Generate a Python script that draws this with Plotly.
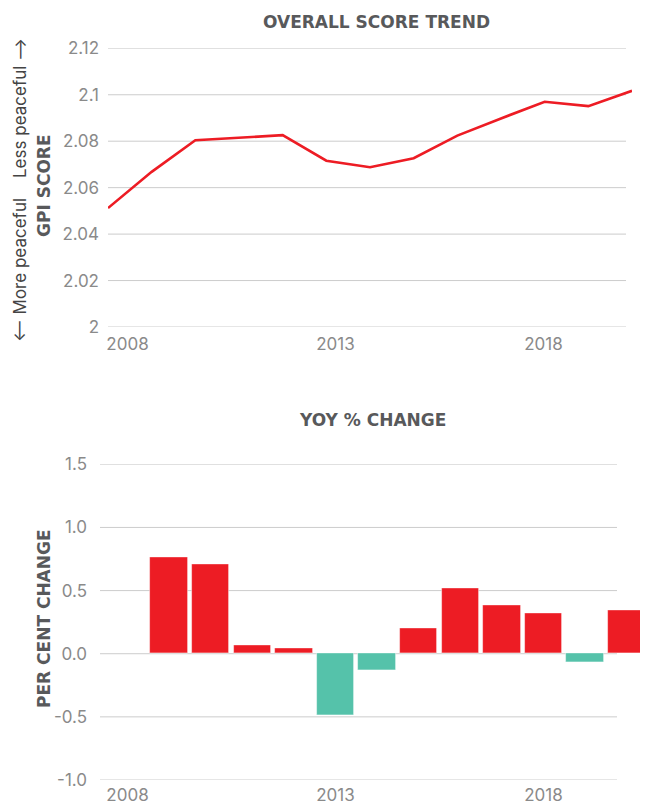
import plotly.graph_objects as go

# ---- data ----
years = list(range(2008, 2021))
gpi_score = [2.0512, 2.0668, 2.0804, 2.0816, 2.0826, 2.0716, 2.0688,
             2.0727, 2.0824, 2.0898, 2.0970, 2.0951, 2.1017]
change_years = list(range(2009, 2021))
yoy_change = [0.76, 0.71, 0.07, 0.04, -0.49, -0.13, 0.20, 0.52, 0.38, 0.32, -0.07, 0.34]
top_yticks = [2.0, 2.02, 2.04, 2.06, 2.08, 2.10, 2.12]
top_ytext = ["2", "2.02", "2.04", "2.06", "2.08", "2.1", "2.12"]
bottom_yticks = [-1.0, -0.5, 0.0, 0.5, 1.0, 1.5]
bottom_ytext = ["-1.0", "-0.5", "0.0", "0.5", "1.0", "1.5"]
xtick_years = [2008, 2013, 2018]
xtick_text = ["2008", "2013", "2018"]

# ---- style ----
W, H = 648, 809
OFF = 8  # page body margin
RED = "#ED1C24"
TEAL = "#55C2AA"
GRID = "#cccccc"
TICK_COLOR = "#8a8a8a"
TITLE_COLOR = "#58595b"
FONT = "Inter"


def px(x):
    return (x - OFF) / W


def py(y):
    return 1 - (y - OFF) / H


# bar-chart year scale: 2008 slot centred at 127.5 px, 41.6 px per year
slot0, slot_w = 127.5, 41.6
bottom_range = [2008 + (100 - slot0) / slot_w, 2008 + (W + OFF - slot0) / slot_w]

fig = go.Figure()

fig.add_trace(go.Scatter(
    x=years, y=gpi_score, mode="lines",
    line=dict(color=RED, width=2.6),
    xaxis="x", yaxis="y", showlegend=False, hoverinfo="x+y",
))

# carries the year labels under the top chart (same year scale as the bar chart)
fig.add_trace(go.Scatter(
    x=xtick_years, y=[None] * len(xtick_years), mode="lines",
    xaxis="x3", yaxis="y", showlegend=False, hoverinfo="skip",
))

fig.add_trace(go.Bar(
    x=change_years, y=yoy_change, width=0.9,
    marker=dict(color=[RED if v > 0 else TEAL for v in yoy_change],
                line=dict(color="rgba(255,255,255,0.6)", width=0.8)),
    xaxis="x2", yaxis="y2", showlegend=False,
))

tickfont = dict(family=FONT, size=17, color=TICK_COLOR)

fig.update_layout(
    width=W, height=H,
    margin=dict(l=0, r=0, t=0, b=0, autoexpand=False),
    paper_bgcolor="white", plot_bgcolor="rgba(0,0,0,0)",
    xaxis=dict(domain=[px(108), px(632)], range=[2008, 2020], anchor="y",
               showgrid=False, zeroline=False, showticklabels=False, showline=False),
    yaxis=dict(domain=[py(327), py(48.3)], range=[2.0, 2.12], anchor="x",
               tickvals=top_yticks, ticktext=top_ytext, tickfont=tickfont,
               showgrid=False, zeroline=False, showline=False, ticklabelstandoff=8),
    xaxis3=dict(domain=[px(100), 1], range=bottom_range, anchor="y",
                tickvals=xtick_years, ticktext=xtick_text, tickfont=tickfont,
                showgrid=False, zeroline=False, showline=False, ticklabelstandoff=5),
    xaxis2=dict(domain=[px(100), 1], range=bottom_range, anchor="y2",
                tickvals=xtick_years, ticktext=xtick_text, tickfont=tickfont,
                showgrid=False, zeroline=False, showline=False, ticklabelstandoff=3),
    yaxis2=dict(domain=[py(780), py(464.3)], range=[-1.0, 1.5], anchor="x2",
                tickvals=bottom_yticks, ticktext=bottom_ytext, tickfont=tickfont,
                showgrid=False, zeroline=False, showline=False, ticklabelstandoff=12),
    bargap=0,
)

shapes = []
for v in top_yticks:
    shapes.append(dict(type="line", xref="paper", yref="y", x0=px(108), x1=px(626),
                       y0=v, y1=v, line=dict(color=GRID, width=1), layer="below"))
for v in bottom_yticks:
    shapes.append(dict(type="line", xref="paper", yref="y2", x0=px(100), x1=px(617),
                       y0=v, y1=v, line=dict(color=GRID, width=1), layer="below"))
fig.update_layout(shapes=shapes)

title_font = dict(family="DejaVu Sans", size=17, color=TITLE_COLOR, weight="bold")
note_font = dict(family=FONT, size=17, color="#444444")

annotations = [
    dict(text="OVERALL SCORE TREND", x=px(376), y=py(22), font=title_font),
    dict(text="YOY % CHANGE", x=px(372), y=py(420), font=title_font),
    dict(text="GPI SCORE", x=px(44), y=py(186), textangle=-90, font=title_font),
    dict(text="PER CENT CHANGE", x=px(44), y=py(619), textangle=-90, font=title_font),
    dict(text="\u27F5 More peaceful", x=px(20), y=py(270), textangle=-90, font=note_font),
    dict(text="Less peaceful \u27F6", x=px(20), y=py(108), textangle=-90, font=note_font),
]
for a in annotations:
    a.update(xref="paper", yref="paper", showarrow=False, xanchor="center", yanchor="middle")
fig.update_layout(annotations=annotations)

fig.write_html("out.html")
